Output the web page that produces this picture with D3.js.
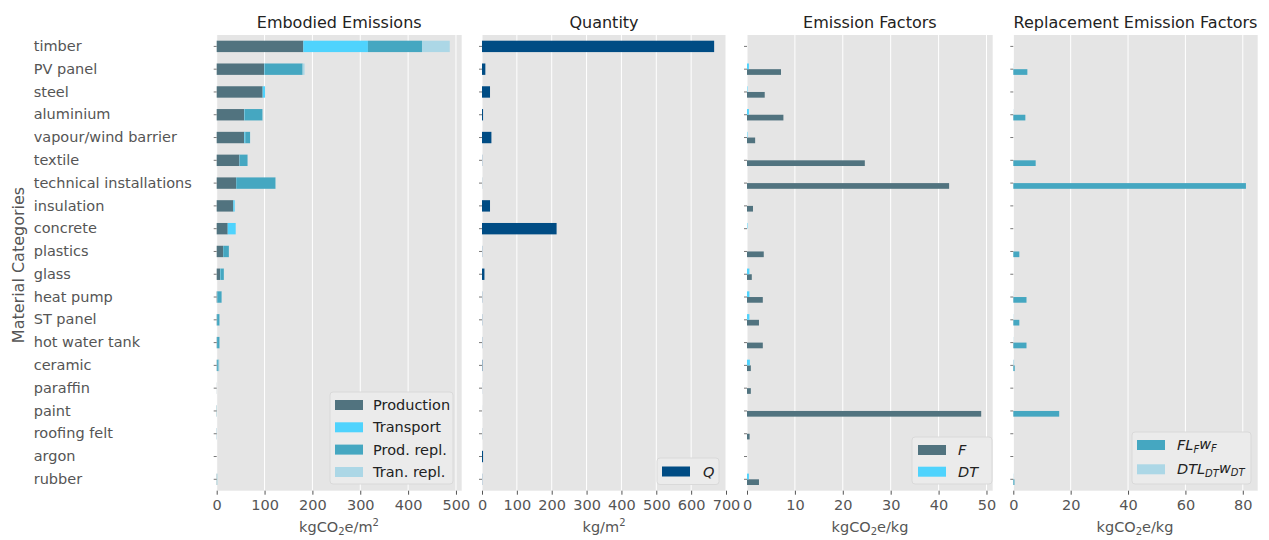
<!DOCTYPE html>
<html><head><meta charset="utf-8">
<script src="https://cdn.jsdelivr.net/npm/d3@7"></script>
<style>body{margin:0;background:#fff}svg{display:block;font-family:"DejaVu Sans",sans-serif}</style>
</head><body><svg id="c" width="1269" height="540"></svg>
<script>
const categories = ["timber","PV panel","steel","aluminium","vapour/wind barrier","textile","technical installations","insulation","concrete","plastics","glass","heat pump","ST panel","hot water tank","ceramic","paraffin","paint","roofing felt","argon","rubber"];
// Embodied emissions (kgCO2e/m2)
const production = [181, 99.6, 96, 57.7, 57.7, 47.3, 40.4, 34.7, 23, 13.2, 7, 1, 0.5, 0.5, 0.5, 0.2, 0.3, 0.3, 0, 0.5];
const transport  = [135, 1, 5, 1, 2, 0.5, 0.5, 2.9, 16.7, 0.5, 1, 0.3, 0.3, 0.3, 0.5, 0, 0, 0.2, 0, 0.2];
const prodRepl   = [113, 79, 0, 37, 10, 16.7, 82, 0, 0, 11.8, 7, 9, 5, 5, 3, 0, 0.3, 0, 0, 0.3];
const tranRepl   = [58, 4, 0, 0.5, 0.3, 0.2, 0.5, 0, 0, 0.2, 0.2, 0.3, 0.3, 0.3, 1.5, 0, 0, 0, 0, 0.1];
// Quantity (kg/m2)
const quantity = [666, 9.6, 23, 3, 27, 0.5, 0.3, 23, 214, 0.5, 7, 0.5, 0.5, 0.5, 1, 0.2, 0.1, 0.3, 3, 0.5];
// Emission factors (kgCO2e/kg)
const factorF  = [0, 7.1, 3.7, 7.6, 1.7, 24.6, 42.2, 1.25, 0, 3.5, 1.0, 3.3, 2.5, 3.3, 0.8, 0.8, 48.9, 0.55, 0, 2.5];
const factorDT = [0, 0.4, 0.1, 0.4, 0.1, 0, 0, 0, 0.1, 0, 0.5, 0.5, 0.5, 0, 0.6, 0, 0, 0, 0, 0.4];
// Replacement emission factors (kgCO2e/kg)
const replF  = [0, 4.9, 0, 4.2, 0, 7.8, 81.1, 0, 0, 2.1, 0, 4.6, 2.1, 4.6, 0.5, 0, 16.0, 0, 0, 0.4];
const replDT = [0, 0.1, 0, 0.1, 0, 0, 0, 0, 0, 0, 0, 0.1, 0.1, 0.1, 0.3, 0, 0, 0, 0, 0.1];

const ticks1 = [0,100,200,300,400,500];
const ticks2 = [0,100,200,300,400,500,600,700];
const ticks3 = [0,10,20,30,40,50];
const ticks4 = [0,20,40,60,80];

const C = {prod:"#51737f", trans:"#4fd3fd", prepl:"#45a7c1", trepl:"#acd7e6", q:"#004c84"};
const svg = d3.select("#c");
const plotTop = 35, plotBottom = 490.7;
const y = d3.scaleBand().domain(categories).range([plotTop, plotBottom]).paddingInner(0).paddingOuter(0);
const bw = y.bandwidth();
const cy = c => y(c) + bw/2;

function panel(left, right, domainMax, ticks, title, showY){
  const x = d3.scaleLinear().domain([0, domainMax]).range([left, right]);
  const g = svg.append("g");
  g.append("rect").attr("x", left).attr("y", plotTop).attr("width", right-left).attr("height", plotBottom-plotTop).attr("fill", "#e5e5e5");
  g.selectAll("line.grid").data(ticks).join("line").attr("class","grid")
    .attr("x1", d=>x(d)).attr("x2", d=>x(d)).attr("y1", plotTop).attr("y2", plotBottom)
    .attr("stroke", "#fff").attr("stroke-width", 1);
  const ax = d3.axisBottom(x).tickValues(ticks).tickSize(4).tickPadding(5).tickFormat(d3.format("d"));
  const axg = svg.append("g").attr("transform", `translate(0,${plotBottom})`).call(ax);
  axg.select(".domain").remove();
  axg.selectAll("line").attr("stroke", "#555");
  axg.selectAll("text").attr("fill", "#555").attr("font-size", 14.5).attr("font-family", "DejaVu Sans");
  const ay = d3.axisLeft(y).tickSize(3).tickPadding(showY ? 180 : 0).tickFormat(showY ? (d=>d) : "");
  const ayg = svg.append("g").attr("transform", `translate(${left},0)`).call(ay);
  ayg.select(".domain").remove();
  ayg.selectAll("line").attr("stroke", "#777");
  ayg.selectAll("text").attr("fill", "#555").attr("font-size", 14.5).attr("font-family", "DejaVu Sans").attr("text-anchor", "start");
  svg.append("text").attr("x", (left+right)/2).attr("y", 28).attr("text-anchor","middle")
    .attr("font-size", 16).attr("fill", "#222").text(title);
  return {x, g};
}

function legend(x0, y0, w, h, items, patchX, textX, italic){
  const g = svg.append("g");
  g.append("rect").attr("x", x0).attr("y", y0).attr("width", w).attr("height", h).attr("rx", 3)
    .attr("fill", "#ebebeb").attr("stroke", "#d9d9d9").attr("stroke-width", 1);
  items.forEach(it => {
    g.append("rect").attr("x", patchX).attr("y", it.y - 5).attr("width", 28).attr("height", 10).attr("fill", it.color);
    const t = g.append("text").attr("x", textX).attr("y", it.y).attr("dy", "0.35em").attr("font-size", 14.5).attr("fill", "#222");
    if (italic) t.attr("font-style", "italic");
    it.parts.forEach(p => {
      const ts = t.append("tspan").text(p[0]);
      if (p[1] === "sub") ts.attr("font-size", 10).attr("dy", "0.3em");
      if (p[1] === "base") ts.attr("dy", "-0.3em");
    });
  });
}

function xlabel(cx, parts){
  const t = svg.append("text").attr("x", cx).attr("y", 532).attr("text-anchor","middle").attr("font-size", 14.5).attr("fill", "#555");
  parts.forEach(p => {
    const ts = t.append("tspan").text(p[0]);
    if (p[1] === "sub") ts.attr("font-size", 10).attr("dy", 3);
    if (p[1] === "back") ts.attr("dy", -3);
    if (p[1] === "sup") ts.attr("font-size", 10).attr("dy", -6);
  });
}

// Panel 1: stacked embodied emissions
const p1 = panel(216.7, 461.7, 512, ticks1, "Embodied Emissions", true);
const stackData = categories.map((c,i)=>({cat:c, production:production[i], transport:transport[i], prodRepl:prodRepl[i], tranRepl:tranRepl[i]}));
const keys = ["production","transport","prodRepl","tranRepl"];
const cols = [C.prod, C.trans, C.prepl, C.trepl];
const series = d3.stack().keys(keys)(stackData);
series.forEach((s,k) => {
  p1.g.selectAll(null).data(s).join("rect")
    .attr("x", d=>p1.x(d[0])).attr("width", d=>Math.max(0, p1.x(d[1])-p1.x(d[0])))
    .attr("y", d=>cy(d.data.cat)-bw*0.25).attr("height", bw*0.5).attr("fill", cols[k]);
});
legend(330, 392, 123, 92, [
  {y:405, color:C.prod, parts:[["Production"]]},
  {y:427.3, color:C.trans, parts:[["Transport"]]},
  {y:449.6, color:C.prepl, parts:[["Prod. repl."]]},
  {y:472, color:C.trepl, parts:[["Tran. repl."]]}], 335, 373, false);
xlabel(339, [["kgCO"],["2","sub"],["e/m","back"],["2","sup"]]);

// Panel 2: quantity
const p2 = panel(482, 726, 700, ticks2, "Quantity", false);
p2.g.selectAll(null).data(categories).join("rect")
  .attr("x", p2.x(0)).attr("width", (d,i)=>p2.x(quantity[i])-p2.x(0))
  .attr("y", d=>cy(d)-bw*0.25).attr("height", bw*0.5).attr("fill", C.q);
legend(657, 458, 62, 26.5, [{y:471.5, color:C.q, parts:[["Q"]]}], 662, 703, true);
xlabel(604, [["kg/m"],["2","sup"]]);

// Panel 3: emission factors
const p3 = panel(747, 992.7, 51.3, ticks3, "Emission Factors", false);
p3.g.selectAll(null).data(categories).join("rect")
  .attr("x", p3.x(0)).attr("width", (d,i)=>p3.x(factorF[i])-p3.x(0))
  .attr("y", d=>cy(d)).attr("height", bw*0.25).attr("fill", C.prod);
p3.g.selectAll(null).data(categories).join("rect")
  .attr("x", p3.x(0)).attr("width", (d,i)=>p3.x(factorDT[i])-p3.x(0))
  .attr("y", d=>cy(d)-bw*0.25).attr("height", bw*0.25).attr("fill", C.trans);
legend(912, 437, 80, 47, [
  {y:450, color:C.prod, parts:[["F"]]},
  {y:471.7, color:C.trans, parts:[["DT"]]}], 918, 958, true);
xlabel(870, [["kgCO"],["2","sub"],["e/kg","back"]]);

// Panel 4: replacement emission factors
const p4 = panel(1013.3, 1257.7, 85.2, ticks4, "Replacement Emission Factors", false);
p4.g.selectAll(null).data(categories).join("rect")
  .attr("x", p4.x(0)).attr("width", (d,i)=>p4.x(replF[i])-p4.x(0))
  .attr("y", d=>cy(d)).attr("height", bw*0.25).attr("fill", C.prepl);
p4.g.selectAll(null).data(categories).join("rect")
  .attr("x", p4.x(0)).attr("width", (d,i)=>p4.x(replDT[i])-p4.x(0))
  .attr("y", d=>cy(d)-bw*0.25).attr("height", bw*0.25).attr("fill", C.trepl);
legend(1132, 432, 119, 52, [
  {y:445, color:C.prepl, parts:[["FL"],["F","sub"],["w","base"],["F","sub"]]},
  {y:469.3, color:C.trepl, parts:[["DTL"],["DT","sub"],["w","base"],["DT","sub"]]}], 1137, 1177, true);
xlabel(1135, [["kgCO"],["2","sub"],["e/kg","back"]]);

// y label
svg.append("text").attr("transform", "translate(23.5,265) rotate(-90)").attr("text-anchor","middle")
  .attr("font-size", 16).attr("fill", "#555").text("Material Categories");
</script></body></html>
